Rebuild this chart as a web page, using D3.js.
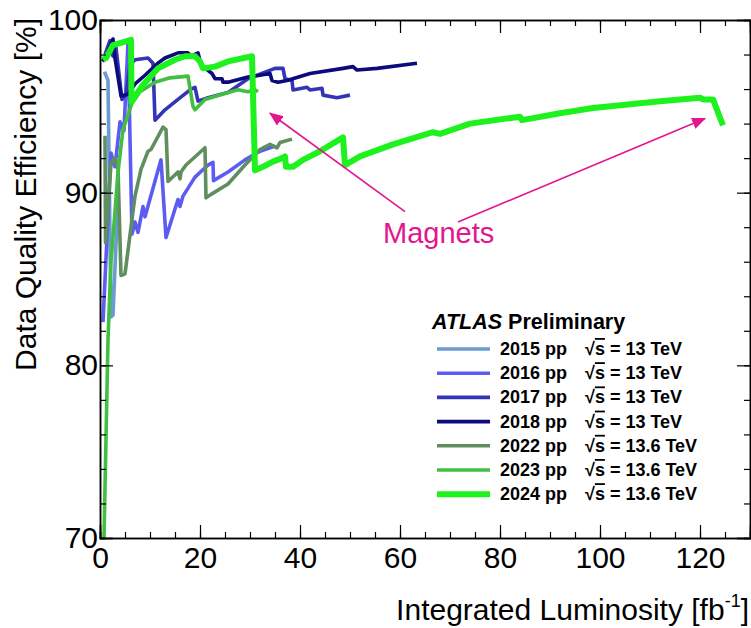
<!DOCTYPE html>
<html>
<head>
<meta charset="utf-8">
<script src="https://cdn.jsdelivr.net/npm/d3@7"></script>
<style>
  body { margin: 0; background: #fff; }
  svg { font-family: "Liberation Sans", Arial, Helvetica, sans-serif; }
  .axis path { stroke: #000; stroke-width: 1.5; }
  .axis line { stroke: #000; stroke-width: 1.2; }
  .axis text { font-size: 30px; font-family: "Liberation Sans", Arial, sans-serif; fill: #000; }
  .legend .entry { font-size: 18px; font-weight: bold; }
</style>
</head>
<body>
<div class="chart"></div>
<script>
/// Data: [integrated luminosity (fb^-1), data quality efficiency (%)]
var run2015 = [[0.9, 97.0], [1.6, 96.5], [2.2, 82.8], [2.6, 82.9], [3.6, 89.8]];
var run2016 = [[0.6, 82.5], [2.2, 92.3], [3.0, 91.5], [4.0, 94.1], [4.8, 93.6], [5.6, 98.7], [6.4, 87.6],
    [7.0, 88.3], [7.6, 87.7], [8.6, 89.2], [9.0, 88.6], [12.2, 91.9], [13.2, 87.4], [15.6, 89.6],
    [16.0, 89.2], [16.6, 89.8], [19.0, 90.9], [21.6, 91.6], [22.6, 91.75], [22.7, 90.7], [25.6, 91.2],
    [29.0, 91.9], [32.0, 92.4], [35.0, 92.7]];
var run2017 = [[1.0, 98.0], [2.0, 98.8], [2.6, 97.9], [3.2, 98.4], [4.4, 95.4], [5.2, 95.7], [6.0, 97.4],
    [7.0, 97.7], [9.6, 97.8], [10.6, 97.5], [11.0, 94.2], [13.0, 94.8], [15.6, 95.4], [18.2, 96.0],
    [19.0, 96.1], [19.6, 95.3], [21.6, 95.5], [25.6, 95.8], [29.6, 96.6], [35.0, 97.2], [36.6, 97.2],
    [37.0, 96.6], [38.4, 96.5], [38.6, 95.95], [41.4, 96.1], [42.0, 95.95], [44.4, 96.05], [44.6, 95.65],
    [47.4, 95.5], [50.0, 95.65]];
var run2018 = [[0.5, 97.6], [1.2, 97.9], [2.6, 98.9], [3.0, 97.8], [4.2, 95.6], [5.6, 95.7], [7.0, 96.3],
    [9.0, 96.8], [11.6, 97.5], [13.0, 97.8], [15.6, 98.1], [17.6, 98.1], [18.2, 97.9], [19.6, 98.1],
    [20.2, 97.4], [22.4, 96.9], [23.0, 96.6], [24.4, 96.6], [24.6, 96.4], [25.6, 96.4], [29.6, 96.7],
    [32.0, 96.8], [34.0, 96.9], [34.4, 96.5], [35.6, 96.4], [37.4, 96.5], [42.0, 96.9], [48.6, 97.2],
    [50.6, 97.3], [51.4, 97.1], [55.4, 97.2], [63.4, 97.5]];
var run2022 = [[1.0, 93.3], [1.1, 87.1], [2.2, 91.7], [3.0, 92.0], [3.6, 91.4], [4.2, 85.2], [5.0, 85.3],
    [7.0, 89.8], [8.2, 91.35], [9.6, 92.4], [10.2, 92.5], [12.6, 93.8], [13.2, 93.65], [13.6, 90.65],
    [15.6, 91.2], [16.0, 90.8], [16.2, 91.2], [17.2, 91.6], [21.0, 92.6], [21.2, 89.7], [22.2, 89.9],
    [25.6, 90.5], [29.0, 91.6], [32.0, 92.5], [34.0, 92.8], [35.4, 92.6], [36.0, 92.9], [38.4, 93.1]];
var run2023 = [[0.8, 70.0], [1.6, 81.5], [2.2, 86.0], [3.0, 88.9], [3.6, 91.2], [4.6, 93.65], [6.4, 95.2],
    [8.0, 95.85], [11.0, 96.4], [14.0, 96.65], [17.6, 96.75], [18.6, 95.0], [19.0, 94.8], [21.0, 95.4],
    [25.6, 95.8], [27.6, 95.96], [29.6, 95.85], [31.0, 95.96], [31.6, 95.85]];
var run2024 = [[0.6, 97.7], [1.2, 97.8], [2.6, 98.55], [6.2, 98.85], [6.3, 95.25], [8.2, 96.1], [11.6, 97.2],
    [15.0, 97.7], [17.0, 97.9], [19.0, 97.9], [20.0, 97.6], [20.6, 97.2], [23.0, 97.3], [25.6, 97.6],
    [30.4, 97.9], [31.0, 91.3], [32.6, 91.5], [34.6, 91.8], [36.4, 92.0], [37.0, 92.1], [37.2, 91.5],
    [38.6, 91.5], [40.6, 91.9], [44.0, 92.4], [48.6, 93.2], [49.0, 91.6], [52.0, 92.1], [58.6, 92.8],
    [66.6, 93.5], [68.0, 93.4], [74.0, 94.0], [84.0, 94.4], [84.4, 94.2], [92.0, 94.6], [98.6, 94.9],
    [112.0, 95.3], [120.0, 95.5], [120.6, 95.4], [122.6, 95.4], [124.6, 93.9]];

/// Legend entries
var years = ["2015", "2016", "2017", "2018", "2022", "2023", "2024"];
var energies = ["13", "13", "13", "13", "13.6", "13.6", "13.6"];
var runs = [run2015, run2016, run2017, run2018, run2022, run2023, run2024];

/// Axis ticks
var xTicks = [0, 20, 40, 60, 80, 100, 120];
var yTicks = [70, 80, 90, 100];

/// Annotation: arrow start/end in data units
var magnetArrows = [
    {from: [61.0, 88.9], to: [34.0, 94.6]},
    {from: [71.6, 88.3], to: [121.0, 94.3]}
];

/// Styles
var colors = ["#6b9bd1", "#5c5cf2", "#3434b6", "#0b0b7e", "#5f8f5f", "#41bf41", "#1ef21e"];
var widths = [3.6, 3.6, 3.6, 3.6, 3.6, 3.6, 6];
var magenta = "#e3168e";

var svgWidth = 751;
var svgHeight = 628;

var plot = {left: 100, right: 750, top: 20, bottom: 538};

var svg = d3.select(".chart")
    .append("svg")
    .attr("width", svgWidth)
    .attr("height", svgHeight);

svg.append("rect")
    .attr("width", svgWidth)
    .attr("height", svgHeight)
    .attr("fill", "#fff");

var x = d3.scaleLinear().domain([0, 130]).range([plot.left, plot.right]);
var y = d3.scaleLinear().domain([70, 100]).range([plot.bottom, plot.top]);

/// Clip the lines to the frame
svg.append("clipPath")
    .attr("id", "clip")
    .append("rect")
    .attr("x", plot.left)
    .attr("y", plot.top)
    .attr("width", plot.right - plot.left)
    .attr("height", plot.bottom - plot.top);

var line = d3.line()
    .x(d => x(d[0]))
    .y(d => y(d[1]));

svg.append("g")
    .attr("clip-path", "url(#clip)")
    .selectAll("path")
    .data(runs)
    .enter()
    .append("path")
    .attr("d", line)
    .attr("fill", "none")
    .attr("stroke", (d, i) => colors[i])
    .attr("stroke-width", (d, i) => widths[i])
    .attr("stroke-linejoin", "round");

/// Axes, ticks on all four sides pointing inwards
var xMinor = d3.range(0, 131, 5);
var yMinor = d3.range(70, 100.1, 2);

function addAxis(axis, tx, ty, labels) {
    var g = svg.append("g")
        .attr("class", "axis")
        .attr("transform", `translate(${tx}, ${ty})`)
        .call(axis);
    if (!labels) g.selectAll("text").remove();
    return g;
}

addAxis(d3.axisBottom(x).tickValues(xMinor).tickSize(-6).tickFormat(""), 0, plot.bottom, false);
addAxis(d3.axisTop(x).tickValues(xMinor).tickSize(-6).tickFormat(""), 0, plot.top, false);
addAxis(d3.axisTop(x).tickValues(xTicks).tickSize(-13), 0, plot.top, false);
addAxis(d3.axisBottom(x).tickValues(xTicks).tickSize(-13).tickPadding(9), 0, plot.bottom, true);

addAxis(d3.axisLeft(y).tickValues(yMinor).tickSize(-6).tickFormat(""), plot.left, 0, false);
addAxis(d3.axisRight(y).tickValues(yMinor).tickSize(-6).tickFormat(""), plot.right, 0, false);
addAxis(d3.axisRight(y).tickValues(yTicks).tickSize(-13), plot.right, 0, false);
addAxis(d3.axisLeft(y).tickValues(yTicks).tickSize(-13).tickPadding(2), plot.left, 0, true);

svg.selectAll(".axis .domain").attr("stroke-width", 2);

/// Axis titles
svg.append("text")
    .attr("transform", "translate(36, 18) rotate(-90)")
    .attr("text-anchor", "end")
    .attr("font-size", 30)
    .text("Data Quality Efficiency [%]");

var xTitle = svg.append("text")
    .attr("x", 749)
    .attr("y", 620)
    .attr("text-anchor", "end")
    .attr("font-size", 30);
xTitle.append("tspan").text("Integrated Luminosity [fb");
xTitle.append("tspan").attr("dy", -13).attr("font-size", 18).text("-1");
xTitle.append("tspan").attr("dy", 13).text("]");

/// Magnet annotation
svg.append("defs")
    .append("marker")
    .attr("id", "head")
    .attr("viewBox", "0 0 12 10")
    .attr("refX", 11)
    .attr("refY", 5)
    .attr("markerWidth", 14)
    .attr("markerHeight", 12)
    .attr("markerUnits", "userSpaceOnUse")
    .attr("orient", "auto")
    .append("path")
    .attr("d", "M0,0 L12,5 L0,10 Z")
    .attr("fill", magenta);

svg.selectAll(".arrow")
    .data(magnetArrows)
    .enter()
    .append("line")
    .attr("class", "arrow")
    .attr("x1", d => x(d.from[0]))
    .attr("y1", d => y(d.from[1]))
    .attr("x2", d => x(d.to[0]))
    .attr("y2", d => y(d.to[1]))
    .attr("stroke", magenta)
    .attr("stroke-width", 1.6)
    .attr("marker-end", "url(#head)");

svg.append("text")
    .attr("x", x(56.6))
    .attr("y", y(87.1))
    .attr("font-size", 29)
    .attr("fill", magenta)
    .text("Magnets");

/// Legend
var legend = svg.append("g").attr("class", "legend");

var title = legend.append("text")
    .attr("x", 432)
    .attr("y", 329)
    .attr("font-size", 21.5)
    .attr("font-weight", "bold");
title.append("tspan").attr("font-style", "italic").text("ATLAS");
title.append("tspan").text(" Preliminary");

var rows = legend.selectAll(".row")
    .data(years)
    .enter()
    .append("g")
    .attr("class", "row")
    .attr("transform", (d, i) => `translate(0, ${349 + i * 24.2})`);

rows.append("line")
    .attr("x1", 437)
    .attr("x2", 490)
    .attr("stroke", (d, i) => colors[i])
    .attr("stroke-width", (d, i) => widths[i]);

rows.append("text")
    .attr("class", "entry")
    .attr("x", 500)
    .attr("y", 6)
    .text(d => d + " pp");

var energyText = rows.append("text")
    .attr("class", "entry")
    .attr("x", 585)
    .attr("y", 6);
energyText.append("tspan").text("√");
energyText.append("tspan")
    .style("text-decoration", "overline")
    .text("s");
energyText.append("tspan").text((d, i) => " = " + energies[i] + " TeV");
</script>
</body>
</html>
